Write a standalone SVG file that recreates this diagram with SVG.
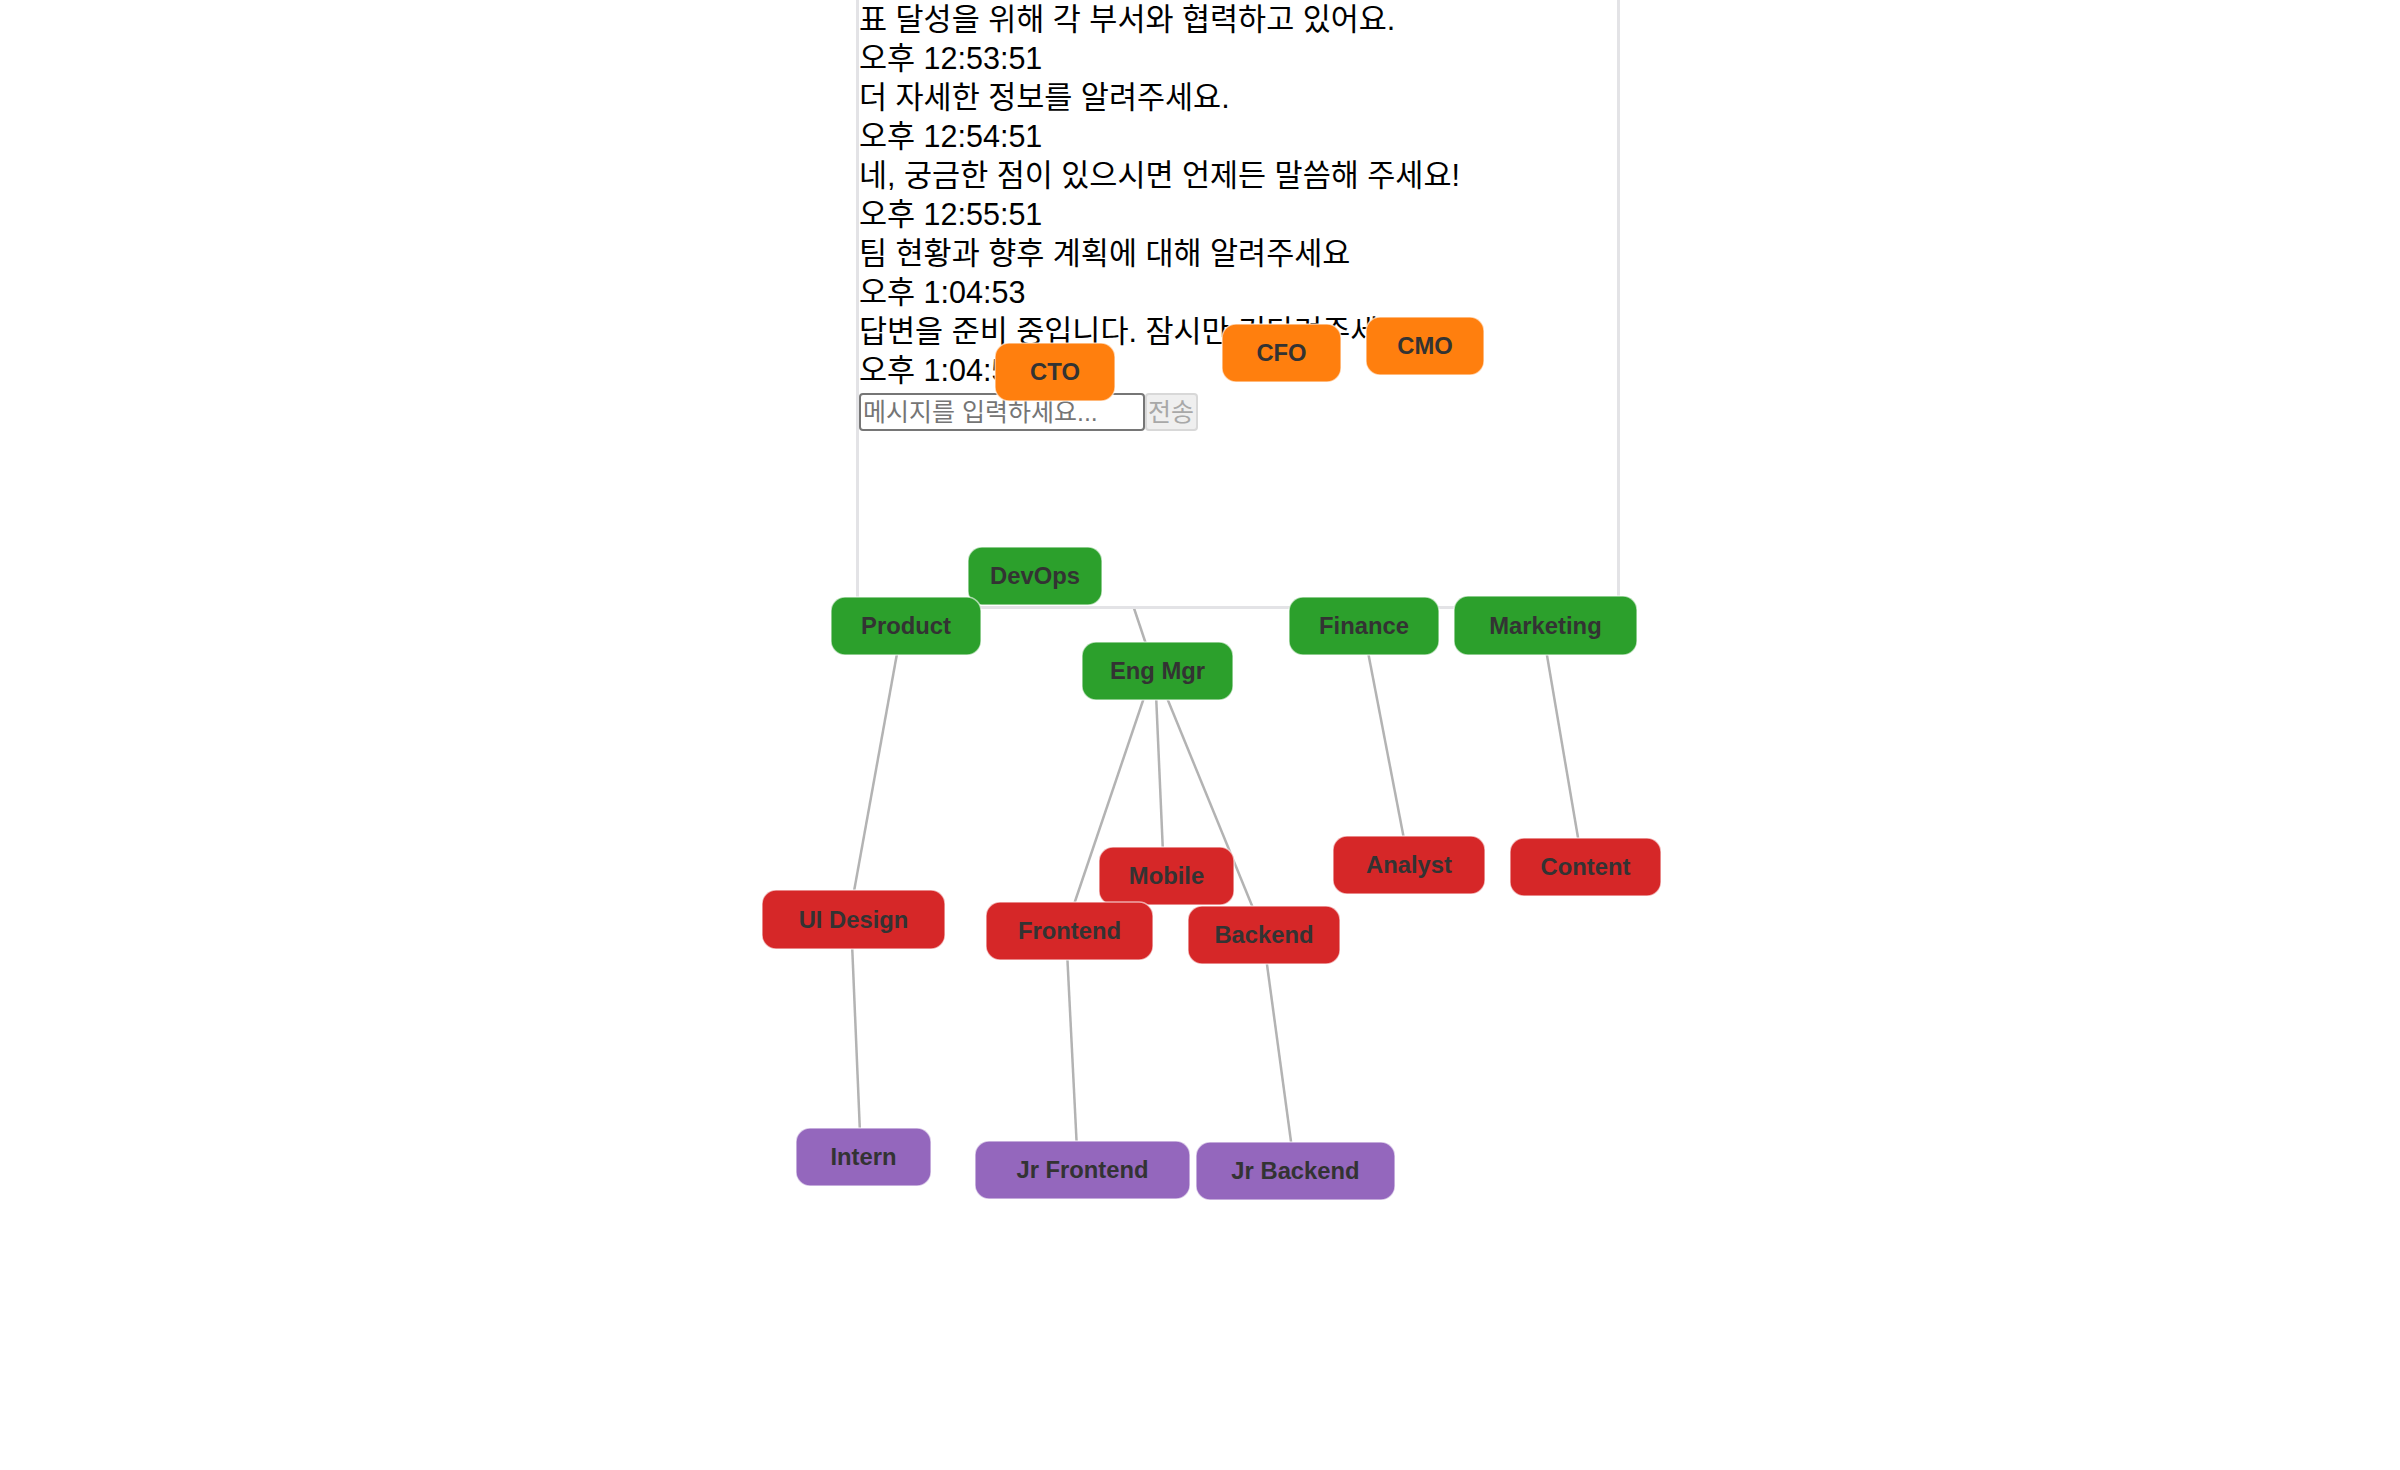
<svg xmlns="http://www.w3.org/2000/svg" width="2400" height="1470" viewBox="0 0 2400 1470">
<style>
.chat{font-family:'Liberation Sans','Noto Sans CJK KR',sans-serif;font-size:30.5px;fill:#000}
.ph{font-family:'Liberation Sans','Noto Sans CJK KR',sans-serif;font-size:25px;fill:#757575}
.btn{font-family:'Liberation Sans','Noto Sans CJK KR',sans-serif;font-size:25px;fill:#a8a8a8}
.link{stroke:#b3b3b3;stroke-width:2.5;fill:none}
.node rect{stroke:#ffffff;stroke-opacity:.6;stroke-width:1.5}
.node text{font-family:'Liberation Sans',Arial,sans-serif;font-size:23.8px;font-weight:bold;fill:#333;text-anchor:middle}
.l0 rect{fill:#ff7f0e}.l1 rect{fill:#2ca02c}.l2 rect{fill:#d62728}.l3 rect{fill:#9467bd}
</style>
<rect width="2400" height="1470" fill="#fff"/>
<g id="connectors">
<line class="link" x1="1055" y1="372" x2="1155" y2="671"/>
<line class="link" x1="902" y1="626" x2="849" y2="919"/>
<line class="link" x1="851" y1="919" x2="861" y2="1157"/>
<line class="link" x1="1153" y1="671" x2="1065" y2="931"/>
<line class="link" x1="1155" y1="671" x2="1164" y2="876"/>
<line class="link" x1="1156" y1="671" x2="1264" y2="935"/>
<line class="link" x1="1066" y1="931" x2="1078" y2="1170"/>
<line class="link" x1="1263" y1="935" x2="1295" y2="1171"/>
<line class="link" x1="1363" y1="626" x2="1409" y2="865"/>
<line class="link" x1="1542" y1="626" x2="1583" y2="867"/>
</g>
<g id="chat-panel">
<rect x="857.5" y="-10" width="761" height="617.5" fill="#fff" stroke="#e3e3e6" stroke-width="3"/>
<text class="chat" x="859" y="30">표 달성을 위해 각 부서와 협력하고 있어요.</text>
<text class="chat" x="859" y="69">오후 12:53:51</text>
<text class="chat" x="859" y="108">더 자세한 정보를 알려주세요.</text>
<text class="chat" x="859" y="147">오후 12:54:51</text>
<text class="chat" x="859" y="186">네, 궁금한 점이 있으시면 언제든 말씀해 주세요!</text>
<text class="chat" x="859" y="225">오후 12:55:51</text>
<text class="chat" x="859" y="264">팀 현황과 향후 계획에 대해 알려주세요</text>
<text class="chat" x="859" y="303">오후 1:04:53</text>
<text class="chat" x="859" y="342">답변을 준비 중입니다. 잠시만 기다려주세요...</text>
<text class="chat" x="859" y="381">오후 1:04:53</text>
<rect x="860" y="394" width="284" height="36" rx="3" fill="#fff" stroke="#767676" stroke-width="2"/>
<text class="ph" x="863" y="421">메시지를 입력하세요...</text>
<rect x="1146" y="394" width="51" height="36" rx="3" fill="#efefef" stroke="#d8d8d8" stroke-width="2"/>
<text class="btn" x="1148" y="421">전송</text>
</g>
<g id="node-cto" class="node l0"><rect x="995" y="343" width="120" height="58" rx="14"/><text x="1055" y="380">CTO</text></g>
<g id="node-cfo" class="node l0"><rect x="1222" y="324" width="119" height="58" rx="14"/><text x="1281.5" y="361">CFO</text></g>
<g id="node-cmo" class="node l0"><rect x="1366" y="317" width="118" height="58" rx="14"/><text x="1425" y="354">CMO</text></g>
<g id="node-devops" class="node l1"><rect x="968" y="547" width="134" height="58" rx="14"/><text x="1035" y="584">DevOps</text></g>
<g id="node-product" class="node l1"><rect x="831" y="597" width="150" height="58" rx="14"/><text x="906" y="634">Product</text></g>
<g id="node-engmgr" class="node l1"><rect x="1082" y="642" width="151" height="58" rx="14"/><text x="1157.5" y="679">Eng Mgr</text></g>
<g id="node-finance" class="node l1"><rect x="1289" y="597" width="150" height="58" rx="14"/><text x="1364" y="634">Finance</text></g>
<g id="node-marketing" class="node l1"><rect x="1454" y="596" width="183" height="59" rx="14"/><text x="1545.5" y="634">Marketing</text></g>
<g id="node-uidesign" class="node l2"><rect x="762" y="890" width="183" height="59" rx="14"/><text x="853.5" y="928">UI Design</text></g>
<g id="node-mobile" class="node l2"><rect x="1099" y="847" width="135" height="58" rx="14"/><text x="1166.5" y="884">Mobile</text></g>
<g id="node-frontend" class="node l2"><rect x="986" y="902" width="167" height="58" rx="14"/><text x="1069.5" y="939">Frontend</text></g>
<g id="node-backend" class="node l2"><rect x="1188" y="906" width="152" height="58" rx="14"/><text x="1264" y="943">Backend</text></g>
<g id="node-analyst" class="node l2"><rect x="1333" y="836" width="152" height="58" rx="14"/><text x="1409" y="873">Analyst</text></g>
<g id="node-content" class="node l2"><rect x="1510" y="838" width="151" height="58" rx="14"/><text x="1585.5" y="875">Content</text></g>
<g id="node-intern" class="node l3"><rect x="796" y="1128" width="135" height="58" rx="14"/><text x="863.5" y="1165">Intern</text></g>
<g id="node-jrfrontend" class="node l3"><rect x="975" y="1141" width="215" height="58" rx="14"/><text x="1082.5" y="1178">Jr Frontend</text></g>
<g id="node-jrbackend" class="node l3"><rect x="1196" y="1142" width="199" height="58" rx="14"/><text x="1295.5" y="1179">Jr Backend</text></g>
</svg>
